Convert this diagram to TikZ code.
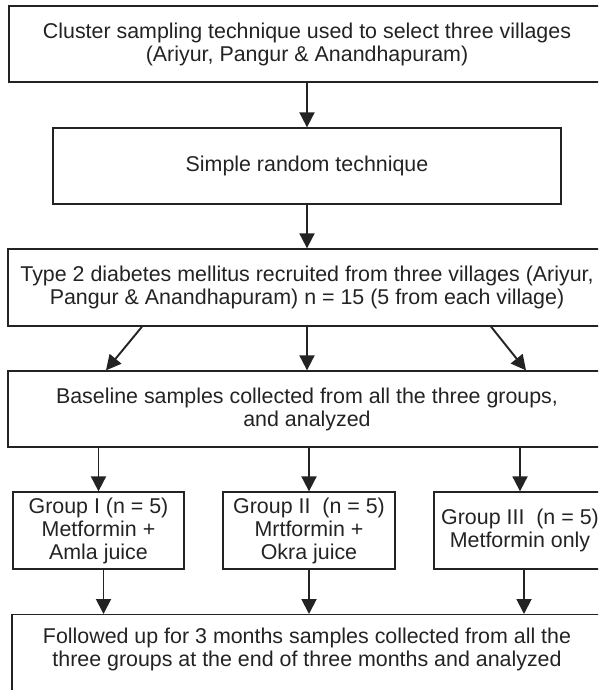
\documentclass[tikz,border=0pt]{standalone}
\usepackage{fontspec}
\setmainfont{Liberation Sans}
\usetikzlibrary{arrows.meta, positioning}
\definecolor{FlowInk}{RGB}{35, 35, 35}

\begin{document}
\begin{tikzpicture}[x=1pt, y=-1pt,
    flowbox/.style={draw=FlowInk, line width=1.3pt, text=FlowInk, align=center, inner sep=0pt, font=\fontsize{21.4}{23}\selectfont},
    widebox/.style={flowbox, minimum width=598pt, minimum height=77pt},
    groupbox/.style={flowbox, minimum width=172pt, minimum height=77pt},
    flowarrow/.style={draw=FlowInk, line width=1.9pt, -{Triangle[length=15pt, width=15pt]}}]
  \useasboundingbox (0,0) rectangle (598,690);
  \clip (0,0) rectangle (598,690);

  \node[widebox, minimum width=596pt, minimum height=76pt] (cluster) at (307,44) {Cluster sampling technique used to select three villages\\(Ariyur, Pangur \& Anandhapuram)};
  \node[flowbox, minimum width=508pt, minimum height=76pt] (random) at (307,166) {Simple random technique};
  \node[widebox] (recruit) at (307,287.5) {Type 2 diabetes mellitus recruited from three villages (Ariyur,\\Pangur \& Anandhapuram) n = 15 (5 from each village)};
  \node[widebox, minimum height=76pt] (baseline) at (307,409) {Baseline samples collected from all the three groups,\\and analyzed};

  \node[groupbox, minimum width=171pt] (grpA) at (98.5,530.5) {Group I (n = 5)\\Metformin +\\Amla juice};
  \node[groupbox] (grpB) at (309,530.5) {Group II\ \ (n = 5)\\Mrtformin +\\Okra juice};
  \node[groupbox] (grpC) at (520,530.5) {Group III\ \ (n = 5)\\Metformin only};

  \node[flowbox, anchor=north, minimum width=590pt, inner ysep=13pt, text depth=80pt] (followup) at (307,614) {Followed up for 3 months samples collected from all the\\three groups at the end of three months and analyzed};

  \draw[flowarrow] (cluster.south) -- (random.north);
  \draw[flowarrow] (random.south) -- (recruit.north);
  \draw[flowarrow] ([xshift=-165pt]recruit.south) -- ([xshift=-201pt]baseline.north);
  \draw[flowarrow] (recruit.south) -- (baseline.north);
  \draw[flowarrow] ([xshift=184pt]recruit.south) -- ([xshift=219pt]baseline.north);
  \draw[flowarrow] (baseline.south -| grpA) -- (grpA.north);
  \draw[flowarrow] (baseline.south -| grpB) -- (grpB.north);
  \draw[flowarrow] (baseline.south -| grpC) -- (grpC.north);
  \draw[flowarrow] ([xshift=5pt]grpA.south) -- ([xshift=5pt]grpA.south |- followup.north);
  \draw[flowarrow] (grpB.south) -- (grpB.south |- followup.north);
  \draw[flowarrow] ([xshift=4pt]grpC.south) -- ([xshift=4pt]grpC.south |- followup.north);
\end{tikzpicture}
\end{document}
